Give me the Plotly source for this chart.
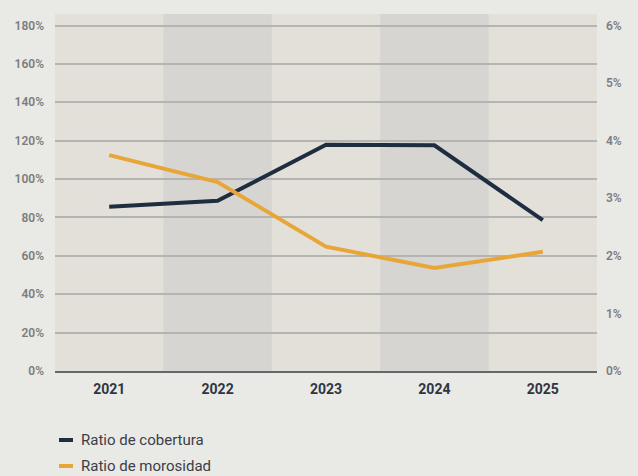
import plotly.graph_objects as go

# Data
years = ["2021", "2022", "2023", "2024", "2025"]
cobertura = [85.6, 88.7, 117.9, 117.6, 78.6]      # % (left axis)
morosidad = [3.75, 3.28, 2.16, 1.79, 2.07]        # % (right axis)
left_ticks = [0, 20, 40, 60, 80, 100, 120, 140, 160, 180]
right_ticks = [0, 1, 2, 3, 4, 5, 6]

NAVY = "#1f2d40"
ORANGE = "#e8a638"
PAGE_BG = "#e9e9e5"
PLOT_BG = "#e2e0d9"
BAND = "#d6d5d2"
GRID = "#b5b4b3"

W, H = 638, 476
ML, MR, MT, MB = 55, 41, 14, 105

fig = go.Figure()
fig.add_trace(go.Scatter(x=years, y=cobertura, mode="lines", name="Ratio de cobertura",
                         line=dict(color=NAVY, width=4), yaxis="y", showlegend=False))
fig.add_trace(go.Scatter(x=years, y=morosidad, mode="lines", name="Ratio de morosidad",
                         line=dict(color=ORANGE, width=4), yaxis="y2", showlegend=False))

# alternate shaded column bands behind 2022 and 2024
shapes = []
for i in (1, 3):
    shapes.append(dict(type="rect", xref="x", yref="paper", x0=i - 0.5, x1=i + 0.5,
                       y0=0, y1=1, fillcolor=BAND, line=dict(width=0), layer="below"))

# custom legend
pw = W - ML - MR
ph = H - MT - MB
def px_x(x):
    return (x - ML) / pw
def px_y(y):
    return (H - MB - y) / ph

annotations = []
for (name, color, yy) in [("Ratio de cobertura", NAVY, 440), ("Ratio de morosidad", ORANGE, 466)]:
    shapes.append(dict(type="line", xref="paper", yref="paper", x0=px_x(59), x1=px_x(73),
                       y0=px_y(yy), y1=px_y(yy), line=dict(color=color, width=4)))
    annotations.append(dict(xref="paper", yref="paper", x=px_x(79), y=px_y(yy), text=name,
                            showarrow=False, xanchor="left", yanchor="middle",
                            font=dict(family="Roboto", size=15, color="#3b4048")))

fig.update_layout(
    width=W, height=H,
    margin=dict(l=ML, r=MR, t=MT, b=MB),
    paper_bgcolor=PAGE_BG, plot_bgcolor=PLOT_BG,
    shapes=shapes, annotations=annotations,
    xaxis=dict(type="category", range=[-0.5, 4.5], showgrid=False, zeroline=False,
               showline=True, linecolor="#65686b", linewidth=2, ticks="",
               tickfont=dict(family="Roboto", size=14, color="#2f3642", weight="bold"),
               ticklabelstandoff=4),
    yaxis=dict(range=[0, 186], tickvals=left_ticks, ticktext=[f"{v}%" for v in left_ticks],
               showgrid=True, gridcolor=GRID, gridwidth=1.5, zeroline=False, showline=False,
               ticks="", ticklabelstandoff=10,
               tickfont=dict(family="Roboto", size=12, color="#7d7d7d", weight=600)),
    yaxis2=dict(range=[0, 6.2], tickvals=right_ticks, ticktext=[f"{v}%" for v in right_ticks],
                overlaying="y", side="right", showgrid=False, zeroline=False, showline=False,
                ticks="", ticklabelstandoff=8,
                tickfont=dict(family="Roboto", size=12, color="#7d7d7d", weight=600)),
)

fig.write_html("out.html")
